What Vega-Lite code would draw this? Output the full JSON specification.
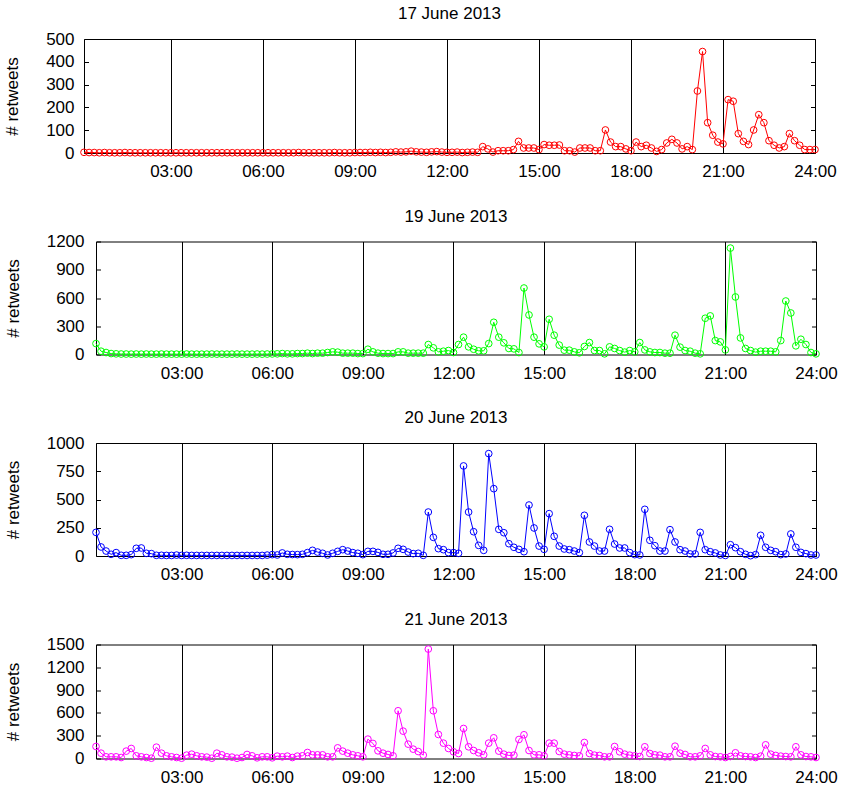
{
"$schema": "https://vega.github.io/schema/vega-lite/v6.json",
"padding": {"left": 2, "top": 4, "right": 2, "bottom": 2},
"config": {
 "font": "Liberation Sans",
 "view": {"stroke": "#000", "strokeWidth": 1},
 "axis": {"labelFont": "Liberation Sans", "labelFontSize": 17, "labelColor": "#000", "titleFont": "Liberation Sans", "titleFontSize": 17, "titleFontWeight": "normal", "titleColor": "#000", "tickColor": "#000", "domain": false, "grid": false},
 "axisX": {"grid": true, "gridColor": "#000", "gridOpacity": 1, "gridWidth": 1, "ticks": false, "labelPadding": 10.5, "labelExpr": "(datum.value/60 < 10 ? '0' : '') + (datum.value/60) + ':00'", "labelFlush": false},
 "axisY": {"tickSize": -4.5, "labelPadding": 14.5, "titlePadding": 24},
 "title": {"fontSize": 17, "fontWeight": "normal", "color": "#000", "font": "Liberation Sans", "anchor": "middle", "offset": 7, "baseline": "alphabetic"}
},
"vconcat": [
 {"hconcat": [
 {"width": 1, "height": 1, "view": {"stroke": null}, "data": {"values": []}, "mark": "point"},
 {"title": "17 June 2013", "width": 731, "height": 114, "data": {"name": "p17"},
  "layer": [
   {"mark": {"type": "line", "color": "#ff0000", "strokeWidth": 1},
    "encoding": {"x": {"field": "m", "type": "quantitative", "scale": {"domain": [10,1440], "nice": false, "zero": false}, "axis": {"values": [180,360,540,720,900,1080,1260,1440], "title": null}},
                 "y": {"field": "v", "type": "quantitative", "scale": {"domain": [0,500], "nice": false}, "axis": {"values": [0,100,200,300,400,500], "format": "d", "title": "# retweets"}}}},
   {"mark": {"type": "point", "shape": "circle", "filled": false, "color": "#ff0000", "size": 45, "strokeWidth": 1, "opacity": 1},
    "encoding": {"x": {"field": "m", "type": "quantitative"},
                 "y": {"field": "v", "type": "quantitative", "axis": {"orient": "right", "values": [0,100,200,300,400,500], "labels": false, "title": null, "grid": false, "domain": false}}}}
  ],
  "resolve": {"axis": {"y": "independent"}}}], "spacing": 0},
 {"hconcat": [
 {"width": 1, "height": 1, "view": {"stroke": null}, "data": {"values": []}, "mark": "point"},
 {"title": "19 June 2013", "width": 720, "height": 113, "data": {"name": "p19"},
  "layer": [
   {"mark": {"type": "line", "color": "#00ff00", "strokeWidth": 1},
    "encoding": {"x": {"field": "m", "type": "quantitative", "scale": {"domain": [10,1440], "nice": false, "zero": false}, "axis": {"values": [180,360,540,720,900,1080,1260,1440], "title": null}},
                 "y": {"field": "v", "type": "quantitative", "scale": {"domain": [0,1200], "nice": false}, "axis": {"values": [0,300,600,900,1200], "format": "d", "labelPadding": 16.5, "title": "# retweets"}}}},
   {"mark": {"type": "point", "shape": "circle", "filled": false, "color": "#00ff00", "size": 45, "strokeWidth": 1, "opacity": 1},
    "encoding": {"x": {"field": "m", "type": "quantitative"},
                 "y": {"field": "v", "type": "quantitative", "axis": {"orient": "right", "values": [0,300,600,900,1200], "labels": false, "title": null, "grid": false, "domain": false}}}}
  ],
  "resolve": {"axis": {"y": "independent"}}}], "spacing": 0},
 {"hconcat": [
 {"width": 1, "height": 1, "view": {"stroke": null}, "data": {"values": []}, "mark": "point"},
 {"title": "20 June 2013", "width": 720, "height": 113, "data": {"name": "p20"},
  "layer": [
   {"mark": {"type": "line", "color": "#0000ff", "strokeWidth": 1},
    "encoding": {"x": {"field": "m", "type": "quantitative", "scale": {"domain": [10,1440], "nice": false, "zero": false}, "axis": {"values": [180,360,540,720,900,1080,1260,1440], "title": null}},
                 "y": {"field": "v", "type": "quantitative", "scale": {"domain": [0,1000], "nice": false}, "axis": {"values": [0,250,500,750,1000], "format": "d", "labelPadding": 16.5, "title": "# retweets"}}}},
   {"mark": {"type": "point", "shape": "circle", "filled": false, "color": "#0000ff", "size": 45, "strokeWidth": 1, "opacity": 1},
    "encoding": {"x": {"field": "m", "type": "quantitative"},
                 "y": {"field": "v", "type": "quantitative", "axis": {"orient": "right", "values": [0,250,500,750,1000], "labels": false, "title": null, "grid": false, "domain": false}}}}
  ],
  "resolve": {"axis": {"y": "independent"}}}], "spacing": 0},
 {"hconcat": [
 {"width": 1, "height": 1, "view": {"stroke": null}, "data": {"values": []}, "mark": "point"},
 {"title": "21 June 2013", "width": 720, "height": 114, "data": {"name": "p21"},
  "layer": [
   {"mark": {"type": "line", "color": "#ff00ff", "strokeWidth": 1},
    "encoding": {"x": {"field": "m", "type": "quantitative", "scale": {"domain": [10,1440], "nice": false, "zero": false}, "axis": {"values": [180,360,540,720,900,1080,1260,1440], "title": null}},
                 "y": {"field": "v", "type": "quantitative", "scale": {"domain": [0,1500], "nice": false}, "axis": {"values": [0,300,600,900,1200,1500], "format": "d", "labelPadding": 16.5, "title": "# retweets"}}}},
   {"mark": {"type": "point", "shape": "circle", "filled": false, "color": "#ff00ff", "size": 45, "strokeWidth": 1, "opacity": 1},
    "encoding": {"x": {"field": "m", "type": "quantitative"},
                 "y": {"field": "v", "type": "quantitative", "axis": {"orient": "right", "values": [0,300,600,900,1200,1500], "labels": false, "title": null, "grid": false, "domain": false}}}}
  ],
  "resolve": {"axis": {"y": "independent"}}}], "spacing": 0}
],
"spacing": 26.5,
"datasets": {
"p17": [
{"m":10,"v":3},{"m":20,"v":2},{"m":30,"v":2},{"m":40,"v":1},{"m":50,"v":2},{"m":60,"v":1},{"m":70,"v":1},{"m":80,"v":1},{"m":90,"v":2},{"m":100,"v":1},{"m":110,"v":1},{"m":120,"v":1},
{"m":130,"v":1},{"m":140,"v":1},{"m":150,"v":1},{"m":160,"v":1},{"m":170,"v":1},{"m":180,"v":1},{"m":190,"v":1},{"m":200,"v":1},{"m":210,"v":1},{"m":220,"v":1},{"m":230,"v":1},{"m":240,"v":1},
{"m":250,"v":1},{"m":260,"v":1},{"m":270,"v":1},{"m":280,"v":1},{"m":290,"v":1},{"m":300,"v":1},{"m":310,"v":1},{"m":320,"v":1},{"m":330,"v":1},{"m":340,"v":1},{"m":350,"v":1},{"m":360,"v":1},
{"m":370,"v":1},{"m":380,"v":1},{"m":390,"v":1},{"m":400,"v":1},{"m":410,"v":1},{"m":420,"v":1},{"m":430,"v":2},{"m":440,"v":1},{"m":450,"v":1},{"m":460,"v":1},{"m":470,"v":1},{"m":480,"v":1},
{"m":490,"v":1},{"m":500,"v":2},{"m":510,"v":1},{"m":520,"v":1},{"m":530,"v":1},{"m":540,"v":2},
{"m":550,"v":2},{"m":560,"v":2},{"m":570,"v":3},{"m":580,"v":2},{"m":590,"v":3},{"m":600,"v":2},{"m":610,"v":3},{"m":620,"v":5},{"m":630,"v":4},{"m":640,"v":5},{"m":650,"v":8},{"m":660,"v":5},{"m":670,"v":4},{"m":680,"v":3},{"m":690,"v":5},{"m":700,"v":6},{"m":710,"v":4},{"m":720,"v":3},
{"m":730,"v":3},{"m":740,"v":4},{"m":750,"v":2},{"m":760,"v":3},{"m":770,"v":4},{"m":780,"v":3},
{"m":790,"v":28},{"m":800,"v":18},{"m":810,"v":4},{"m":820,"v":10},{"m":830,"v":10},{"m":840,"v":10},{"m":850,"v":15},{"m":860,"v":51},{"m":870,"v":22},{"m":880,"v":22},{"m":890,"v":22},{"m":900,"v":15},
{"m":910,"v":37},{"m":920,"v":34},{"m":930,"v":34},{"m":940,"v":35},{"m":950,"v":10},{"m":960,"v":10},{"m":970,"v":4},{"m":980,"v":22},{"m":990,"v":22},{"m":1000,"v":22},{"m":1010,"v":10},{"m":1020,"v":10},{"m":1030,"v":101},{"m":1040,"v":48},{"m":1050,"v":28},{"m":1060,"v":28},{"m":1070,"v":18},{"m":1080,"v":10},
{"m":1090,"v":48},{"m":1100,"v":28},{"m":1110,"v":34},{"m":1120,"v":22},{"m":1130,"v":7},{"m":1140,"v":15},{"m":1150,"v":44},{"m":1160,"v":60},{"m":1170,"v":44},{"m":1180,"v":18},{"m":1190,"v":28},{"m":1200,"v":15},{"m":1210,"v":272},{"m":1220,"v":445},{"m":1230,"v":133},{"m":1240,"v":78},{"m":1250,"v":48},{"m":1260,"v":40},
{"m":1270,"v":234},{"m":1280,"v":227},{"m":1290,"v":85},{"m":1300,"v":51},{"m":1310,"v":37},{"m":1320,"v":101},{"m":1330,"v":168},{"m":1340,"v":133},{"m":1350,"v":54},{"m":1360,"v":34},{"m":1370,"v":22},{"m":1380,"v":28},{"m":1390,"v":85},{"m":1400,"v":54},{"m":1410,"v":34},{"m":1420,"v":15},{"m":1430,"v":15},{"m":1440,"v":15}
],
"p19": [
{"m":10,"v":116},{"m":20,"v":35},{"m":30,"v":21},{"m":40,"v":10},
{"m":50,"v":7},{"m":60,"v":5},{"m":70,"v":5},{"m":80,"v":4},{"m":90,"v":5},{"m":100,"v":4},{"m":110,"v":5},{"m":120,"v":4},{"m":130,"v":4},{"m":140,"v":5},{"m":150,"v":4},{"m":160,"v":4},
{"m":170,"v":4},{"m":180,"v":4},{"m":190,"v":5},{"m":200,"v":4},{"m":210,"v":4},{"m":220,"v":4},{"m":230,"v":4},{"m":240,"v":5},{"m":250,"v":4},{"m":260,"v":4},{"m":270,"v":4},{"m":280,"v":4},
{"m":290,"v":5},{"m":300,"v":4},{"m":310,"v":4},{"m":320,"v":4},{"m":330,"v":5},{"m":340,"v":4},{"m":350,"v":5},{"m":360,"v":6},
{"m":370,"v":7},{"m":380,"v":10},{"m":390,"v":7},{"m":400,"v":7},{"m":410,"v":10},{"m":420,"v":10},{"m":430,"v":14},{"m":440,"v":10},{"m":450,"v":14},{"m":460,"v":14},{"m":470,"v":21},{"m":480,"v":28},{"m":490,"v":25},{"m":500,"v":14},{"m":510,"v":14},{"m":520,"v":14},{"m":530,"v":10},{"m":540,"v":10},
{"m":550,"v":56},{"m":560,"v":28},{"m":570,"v":14},{"m":580,"v":10},{"m":590,"v":10},{"m":600,"v":10},{"m":610,"v":28},{"m":620,"v":28},{"m":630,"v":14},{"m":640,"v":14},{"m":650,"v":14},{"m":660,"v":14},{"m":670,"v":106},{"m":680,"v":71},{"m":690,"v":28},{"m":700,"v":35},{"m":710,"v":42},{"m":720,"v":21},
{"m":730,"v":106},{"m":740,"v":184},{"m":750,"v":81},{"m":760,"v":56},{"m":770,"v":39},{"m":780,"v":39},{"m":790,"v":116},{"m":800,"v":342},{"m":810,"v":184},{"m":820,"v":124},{"m":830,"v":64},{"m":840,"v":60},{"m":850,"v":21},{"m":860,"v":706},{"m":870,"v":420},{"m":880,"v":184},{"m":890,"v":113},{"m":900,"v":81},
{"m":910,"v":374},{"m":920,"v":205},{"m":930,"v":100},{"m":940,"v":46},{"m":950,"v":46},{"m":960,"v":28},{"m":970,"v":18},{"m":980,"v":85},{"m":990,"v":127},{"m":1000,"v":42},{"m":1010,"v":42},{"m":1020,"v":7},{"m":1030,"v":81},{"m":1040,"v":64},{"m":1050,"v":42},{"m":1060,"v":25},{"m":1070,"v":42},{"m":1080,"v":28},
{"m":1090,"v":127},{"m":1100,"v":49},{"m":1110,"v":28},{"m":1120,"v":21},{"m":1130,"v":21},{"m":1140,"v":14},{"m":1150,"v":14},{"m":1160,"v":205},{"m":1170,"v":78},{"m":1180,"v":42},{"m":1190,"v":35},{"m":1200,"v":14},{"m":1210,"v":7},{"m":1220,"v":385},{"m":1230,"v":410},{"m":1240,"v":148},{"m":1250,"v":134},{"m":1260,"v":49},
{"m":1270,"v":1130},{"m":1280,"v":611},{"m":1290,"v":176},{"m":1300,"v":64},{"m":1310,"v":42},{"m":1320,"v":25},{"m":1330,"v":35},{"m":1340,"v":35},{"m":1350,"v":35},{"m":1360,"v":28},{"m":1370,"v":148},{"m":1380,"v":568},{"m":1390,"v":441},{"m":1400,"v":92},{"m":1410,"v":162},{"m":1420,"v":106},{"m":1430,"v":21},{"m":1440,"v":7}
],
"p20": [
{"m":10,"v":209},{"m":20,"v":80},{"m":30,"v":44},{"m":40,"v":15},{"m":50,"v":30},{"m":60,"v":6},{"m":70,"v":6},{"m":80,"v":12},{"m":90,"v":68},{"m":100,"v":71},{"m":110,"v":24},{"m":120,"v":21},
{"m":130,"v":6},{"m":140,"v":6},{"m":150,"v":5},{"m":160,"v":5},{"m":170,"v":8},{"m":180,"v":5},{"m":190,"v":6},{"m":200,"v":5},{"m":210,"v":5},{"m":220,"v":5},{"m":230,"v":5},{"m":240,"v":5},
{"m":250,"v":5},{"m":260,"v":5},{"m":270,"v":5},{"m":280,"v":5},{"m":290,"v":5},{"m":300,"v":5},{"m":310,"v":5},{"m":320,"v":5},{"m":330,"v":5},{"m":340,"v":5},{"m":350,"v":8},{"m":360,"v":12},
{"m":370,"v":9},{"m":380,"v":27},{"m":390,"v":15},{"m":400,"v":13},{"m":410,"v":12},{"m":420,"v":15},{"m":430,"v":30},{"m":440,"v":50},{"m":450,"v":35},{"m":460,"v":24},{"m":470,"v":9},{"m":480,"v":24},{"m":490,"v":41},{"m":500,"v":56},{"m":510,"v":44},{"m":520,"v":30},{"m":530,"v":24},{"m":540,"v":12},
{"m":550,"v":41},{"m":560,"v":41},{"m":570,"v":32},{"m":580,"v":15},{"m":590,"v":15},{"m":600,"v":27},{"m":610,"v":68},{"m":620,"v":59},{"m":630,"v":35},{"m":640,"v":21},{"m":650,"v":24},{"m":660,"v":6},{"m":670,"v":389},{"m":680,"v":165},{"m":690,"v":65},{"m":700,"v":56},{"m":710,"v":30},{"m":720,"v":30},
{"m":730,"v":24},{"m":740,"v":797},{"m":750,"v":389},{"m":760,"v":215},{"m":770,"v":94},{"m":780,"v":50},{"m":790,"v":906},{"m":800,"v":596},{"m":810,"v":236},{"m":820,"v":206},{"m":830,"v":109},{"m":840,"v":77},{"m":850,"v":59},{"m":860,"v":38},{"m":870,"v":451},{"m":880,"v":248},{"m":890,"v":88},{"m":900,"v":59},
{"m":910,"v":375},{"m":920,"v":174},{"m":930,"v":88},{"m":940,"v":62},{"m":950,"v":56},{"m":960,"v":44},{"m":970,"v":30},{"m":980,"v":360},{"m":990,"v":124},{"m":1000,"v":88},{"m":1010,"v":44},{"m":1020,"v":44},{"m":1030,"v":236},{"m":1040,"v":106},{"m":1050,"v":71},{"m":1060,"v":71},{"m":1070,"v":30},{"m":1080,"v":12},
{"m":1090,"v":9},{"m":1100,"v":413},{"m":1110,"v":139},{"m":1120,"v":91},{"m":1130,"v":44},{"m":1140,"v":44},{"m":1150,"v":233},{"m":1160,"v":124},{"m":1170,"v":56},{"m":1180,"v":44},{"m":1190,"v":18},{"m":1200,"v":18},{"m":1210,"v":209},{"m":1220,"v":56},{"m":1230,"v":38},{"m":1240,"v":27},{"m":1250,"v":9},{"m":1260,"v":5},
{"m":1270,"v":100},{"m":1280,"v":74},{"m":1290,"v":38},{"m":1300,"v":15},{"m":1310,"v":3},{"m":1320,"v":12},{"m":1330,"v":183},{"m":1340,"v":77},{"m":1350,"v":50},{"m":1360,"v":38},{"m":1370,"v":12},{"m":1380,"v":18},{"m":1390,"v":195},{"m":1400,"v":77},{"m":1410,"v":32},{"m":1420,"v":21},{"m":1430,"v":9},{"m":1440,"v":9}
],
"p21": [
{"m":10,"v":158},{"m":20,"v":70},{"m":30,"v":22},{"m":40,"v":22},{"m":50,"v":22},{"m":60,"v":13},{"m":70,"v":97},{"m":80,"v":132},{"m":90,"v":35},{"m":100,"v":22},{"m":110,"v":13},{"m":120,"v":4},{"m":130,"v":149},{"m":140,"v":70},{"m":150,"v":35},{"m":160,"v":22},{"m":170,"v":13},{"m":180,"v":4},
{"m":190,"v":44},{"m":200,"v":57},{"m":210,"v":35},{"m":220,"v":22},{"m":230,"v":18},{"m":240,"v":4},{"m":250,"v":70},{"m":260,"v":48},{"m":270,"v":22},{"m":280,"v":18},{"m":290,"v":4},{"m":300,"v":13},{"m":310,"v":53},{"m":320,"v":35},{"m":330,"v":9},{"m":340,"v":22},{"m":350,"v":22},{"m":360,"v":9},
{"m":370,"v":31},{"m":380,"v":22},{"m":390,"v":31},{"m":400,"v":13},{"m":410,"v":31},{"m":420,"v":35},{"m":430,"v":79},{"m":440,"v":48},{"m":450,"v":48},{"m":460,"v":48},{"m":470,"v":22},{"m":480,"v":22},{"m":490,"v":140},{"m":500,"v":97},{"m":510,"v":70},{"m":520,"v":48},{"m":530,"v":35},{"m":540,"v":22},
{"m":550,"v":255},{"m":560,"v":198},{"m":570,"v":101},{"m":580,"v":70},{"m":590,"v":53},{"m":600,"v":35},{"m":610,"v":628},{"m":620,"v":360},{"m":630,"v":189},{"m":640,"v":123},{"m":650,"v":92},{"m":660,"v":44},{"m":670,"v":1440},{"m":680,"v":628},{"m":690,"v":316},{"m":700,"v":202},{"m":710,"v":132},{"m":720,"v":88},
{"m":730,"v":66},{"m":740,"v":395},{"m":750,"v":154},{"m":760,"v":105},{"m":770,"v":75},{"m":780,"v":48},{"m":790,"v":202},{"m":800,"v":272},{"m":810,"v":97},{"m":820,"v":57},{"m":830,"v":40},{"m":840,"v":44},{"m":850,"v":250},{"m":860,"v":312},{"m":870,"v":105},{"m":880,"v":48},{"m":890,"v":48},{"m":900,"v":35},
{"m":910,"v":202},{"m":920,"v":202},{"m":930,"v":92},{"m":940,"v":57},{"m":950,"v":48},{"m":960,"v":40},{"m":970,"v":35},{"m":980,"v":211},{"m":990,"v":66},{"m":1000,"v":44},{"m":1010,"v":40},{"m":1020,"v":22},{"m":1030,"v":22},{"m":1040,"v":158},{"m":1050,"v":88},{"m":1060,"v":57},{"m":1070,"v":44},{"m":1080,"v":35},
{"m":1090,"v":26},{"m":1100,"v":154},{"m":1110,"v":66},{"m":1120,"v":48},{"m":1130,"v":44},{"m":1140,"v":22},{"m":1150,"v":22},{"m":1160,"v":162},{"m":1170,"v":70},{"m":1180,"v":53},{"m":1190,"v":22},{"m":1200,"v":22},{"m":1210,"v":35},{"m":1220,"v":132},{"m":1230,"v":48},{"m":1240,"v":26},{"m":1250,"v":22},{"m":1260,"v":13},
{"m":1270,"v":26},{"m":1280,"v":75},{"m":1290,"v":35},{"m":1300,"v":26},{"m":1310,"v":22},{"m":1320,"v":13},{"m":1330,"v":31},{"m":1340,"v":180},{"m":1350,"v":57},{"m":1360,"v":40},{"m":1370,"v":31},{"m":1380,"v":26},{"m":1390,"v":22},{"m":1400,"v":154},{"m":1410,"v":48},{"m":1420,"v":26},{"m":1430,"v":22},{"m":1440,"v":13}
]
}
}
